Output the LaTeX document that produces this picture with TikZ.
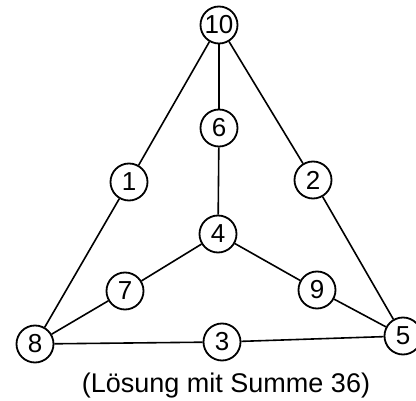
\documentclass[tikz,border=0pt]{standalone}
\usepackage{fontspec}
\setmainfont{Liberation Sans}
\begin{document}
\begin{tikzpicture}[x=1pt,y=-1pt,line width=1.6pt,num node/.style={circle,draw,line width=1.8pt,minimum size=37pt,inner sep=0pt,fill=white,font=\fontsize{26}{26}\selectfont}]
                    \useasboundingbox (0,0) rectangle (416,401);
                    \node[num node] at (219, 25) (n10) {10};
                    \node[num node] at (219, 128) (n6) {6};
                    \node[num node] at (129, 182) (n1) {1};
                    \node[num node] at (313, 180) (n2) {2};
                    \node[num node] at (218, 234) (n4) {4};
                    \node[num node] at (125, 291) (n7) {7};
                    \node[num node] at (317, 290) (n9) {9};
                    \node[num node] at (35, 344) (n8) {8};
                    \node[num node] at (222, 342) (n3) {3};
                    \node[num node] at (403, 336) (n5) {5};
                    \node[anchor=base,font=\fontsize{27}{27}\selectfont] at (226, 393) (cap) {(Lösung mit Summe 36)};

                    \path (n10) edge (n1);
                    \path (n1) edge (n8);
                    \path (n10) edge (n6);
                    \path (n6) edge (n4);
                    \path (n10) edge (n2);
                    \path (n2) edge (n5);
                    \path (n4) edge (n7);
                    \path (n7) edge (n8);
                    \path (n4) edge (n9);
                    \path (n9) edge (n5);
                    \path (n8) edge (n3);
                    \path (n3) edge (n5);
                \end{tikzpicture}
\end{document}
